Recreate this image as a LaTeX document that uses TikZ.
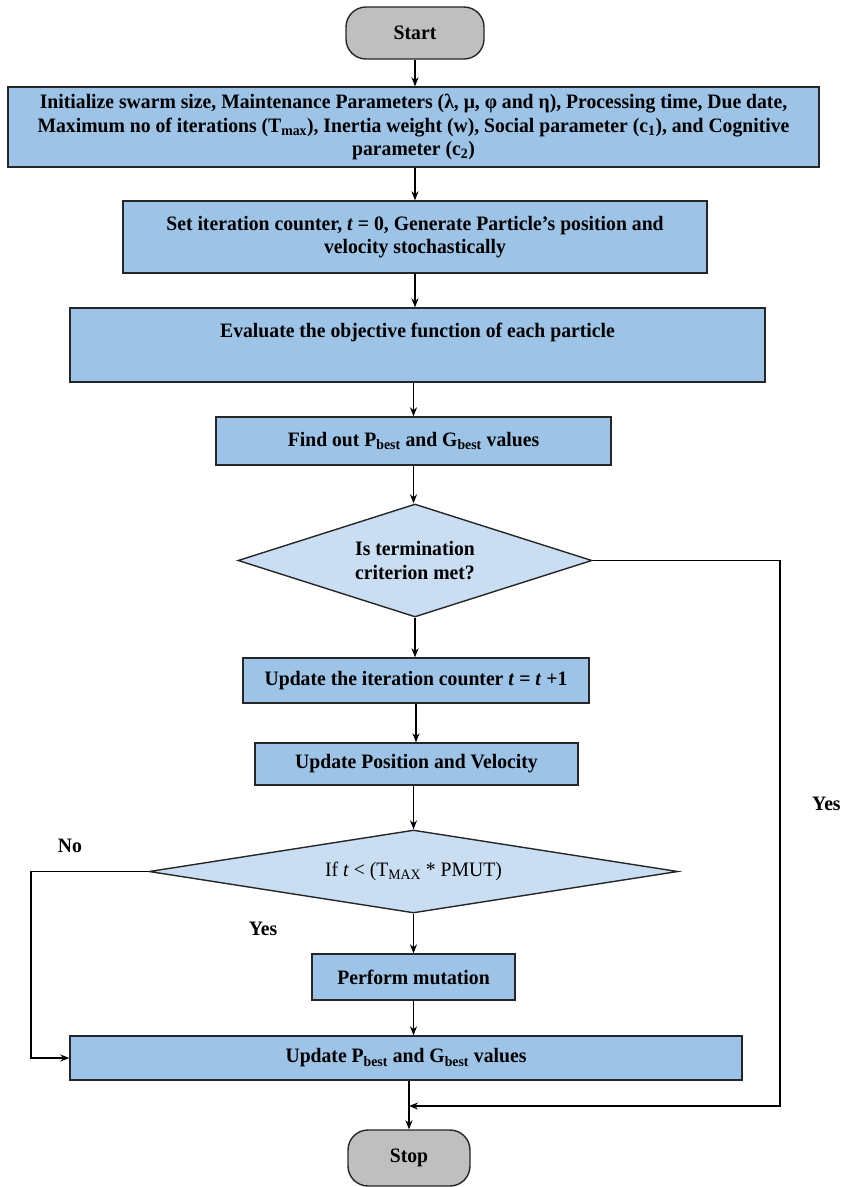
\documentclass[tikz,border=0pt]{standalone}
\usepackage{fontspec}
\setmainfont{Liberation Serif}[FakeStretch=0.96]
\usetikzlibrary{shapes.geometric,arrows.meta,positioning}

\definecolor{boxblue}{HTML}{9DC3E6}
\definecolor{diablue}{HTML}{C9DEF2}
\definecolor{termgray}{HTML}{BFBFBF}

\tikzset{
  procbox/.style={draw=black!85,line width=1.4pt,fill=boxblue,align=center,inner sep=0pt,
    font=\bfseries\fontsize{20.5}{23.5}\selectfont},
  termbox/.style={draw=black!85,line width=1.4pt,fill=termgray,rounded corners=20pt,inner sep=0pt,
    font=\bfseries\fontsize{20.5}{23.5}\selectfont},
  decbox/.style={diamond,draw=black!85,line width=1.4pt,fill=diablue,align=center,inner sep=0pt,aspect=3.2,
    font=\bfseries\fontsize{20.5}{23.5}\selectfont},
  lbl/.style={font=\bfseries\fontsize{20.5}{23.5}\selectfont,inner sep=0pt},
  flow/.style={->,line width=1.2pt}
}

\begin{document}
\begin{tikzpicture}[x=1pt,y=-1pt,>={Stealth[length=9pt,width=7pt]}]
\useasboundingbox (0,0) rectangle (843,1187);

\node[termbox,minimum width=138pt,minimum height=52pt] (start) at (415,33) {Start};
\node[procbox,minimum width=811pt,minimum height=80pt] (init) at (413.5,127)
  {Initialize swarm size, Maintenance Parameters (λ, μ, φ and η), Processing time, Due date,\\
   Maximum no of iterations (T\textsubscript{max}), Inertia weight (w), Social parameter (c\textsubscript{1}), and Cognitive\\
   parameter (c\textsubscript{2})};
\node[procbox,minimum width=584pt,minimum height=72pt] (setc) at (415,237)
  {Set iteration counter, \textit{t} = 0, Generate Particle’s position and\\ velocity stochastically};
\node[procbox,minimum width=695pt,inner ysep=7pt,text height=22pt,text depth=38pt] (eval) at (417.5,345)
  {Evaluate the objective function of each particle};
\node[procbox,minimum width=395pt,minimum height=48pt] (find) at (413.5,441)
  {Find out P\textsubscript{best} and G\textsubscript{best} values};
\node[decbox,minimum width=354pt,minimum height=113pt] (term) at (415,560.5)
  {Is termination\\ criterion met?};
\node[procbox,minimum width=346pt,minimum height=45pt] (iter) at (416,680.5)
  {Update the iteration counter \textit{t} = \textit{t} +1};
\node[procbox,minimum width=323pt,minimum height=42pt] (posv) at (416.5,764)
  {Update Position and Velocity};
\node[decbox,minimum width=529pt,minimum height=83pt,aspect=6,font=\fontsize{20.5}{23.5}\selectfont] (mutq) at (413.5,871.5)
  {If \textit{t} < (T\textsubscript{MAX} * PMUT)};
\node[procbox,minimum width=203pt,minimum height=46pt] (mut) at (413.5,977)
  {Perform mutation};
\node[procbox,minimum width=672pt,minimum height=44pt] (upd) at (406,1058)
  {Update P\textsubscript{best} and G\textsubscript{best} values};
\node[termbox,minimum width=122pt,minimum height=56pt] (stop) at (409,1158) {Stop};

% labels
\node[lbl,anchor=west] (yesr) at (812,804) {Yes};
\node[lbl] (nol) at (70,846) {No};
\node[lbl] (yesm) at (263,929) {Yes};

% main flow
\draw[flow] (start.south) -- (start.south |- init.north);
\draw[flow] (init.south -| setc) -- (setc.north);
\draw[flow] (setc.south) -- (setc.south |- eval.north);
\draw[flow] (eval.south -| find) -- (find.north);
\draw[flow] (find.south) -- (find.south |- term.north);
\draw[flow] (term.south) -- (term.south |- iter.north);
\draw[flow] (iter.south) -- (iter.south |- posv.north);
\draw[flow] (posv.south -| mutq) -- (mutq.north);
\draw[flow] (mutq.south) -- (mutq.south |- mut.north);
\draw[flow] (mut.south) -- (mut.south |- upd.north);
\draw[flow] (upd.south -| stop) -- (stop.north);

% loops back
\coordinate (yescorner) at (780,1106);
\coordinate (nocorner) at (31,1058);
\draw[flow] (term.east) -| (yescorner) -- (yescorner -| stop);
\draw[flow] (mutq.west) -| (nocorner) -- (upd.west);
\end{tikzpicture}
\end{document}
